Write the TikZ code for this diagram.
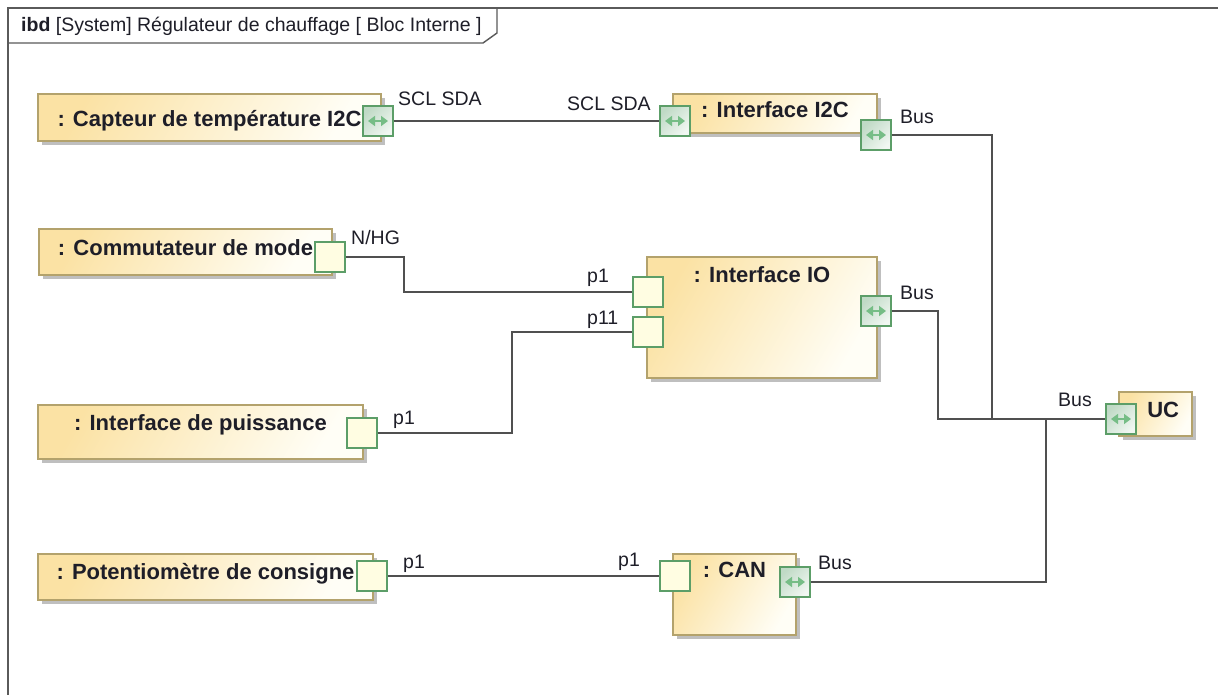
\documentclass[tikz,border=0pt]{standalone}
\usepackage{fontspec}
\setmainfont{Liberation Sans}
\usetikzlibrary{shadows,arrows.meta,calc}
\definecolor{blkA}{HTML}{FBE2A4}
\definecolor{blkB}{HTML}{FFFEF6}
\definecolor{blkLine}{HTML}{B3A26C}
\definecolor{portLine}{HTML}{5C9E68}
\definecolor{portFill}{HTML}{FFFDE2}
\definecolor{bpA}{HTML}{C0DAC6}
\definecolor{bpB}{HTML}{F1F7F2}
\definecolor{arrowG}{HTML}{76BD86}
\definecolor{wireC}{HTML}{505050}
\definecolor{frameC}{HTML}{5A5A5A}
\definecolor{txt}{HTML}{1E1E28}
\begin{document}
\begin{tikzpicture}[x=1pt,y=-1pt,
  block/.style={draw=blkLine, line width=1.3pt, top color=blkA, bottom color=blkB,
    shading angle=60, inner sep=0pt,
    drop shadow={shadow xshift=4pt, shadow yshift=-4pt, fill=black!25, opacity=1}},
  portbase/.style={draw=portLine, line width=1.3pt, minimum size=30pt, inner sep=0pt},
  port/.style={portbase, fill=portFill},
  bport/.style={portbase, top color=bpA, bottom color=bpB, shading angle=45,
    path picture={\draw[arrowG, line width=1.6pt,
      {Triangle[width=10pt,length=7pt]}-{Triangle[width=10pt,length=7pt]}]
      ([xshift=-10pt]path picture bounding box.center) --
      ([xshift=10pt]path picture bounding box.center);}},
  btxt/.style={text=txt, font=\fontsize{22}{24}\selectfont\bfseries, anchor=base, inner sep=0pt},
  ltxt/.style={text=txt, font=\fontsize{19.5}{22}\selectfont, anchor=base west, inner sep=0pt},
  wire/.style={draw=wireC, line width=1.4pt},
  frame/.style={draw=frameC, line width=1.4pt}]
\useasboundingbox[fill=white] (0,0) rectangle (1218,695);

% frame
\draw[frame] (1218,8) -- (8,8) -- (8,695);
\draw[frame] (8,43) -- (483,43) -- (497,33) -- (497,8);
\node[ltxt] (title) at (21,32) {\textbf{ibd} [System] Régulateur de chauffage [ Bloc Interne ]};

% blocks
\node[block, minimum width=343pt, minimum height=47pt] (cap) at (209.5,117.5) {};
\node[block, minimum width=204pt, minimum height=39pt] (i2c) at (775,113.5) {};
\node[block, minimum width=293pt, minimum height=46pt] (com) at (185.5,252) {};
\node[block, minimum width=230pt, minimum height=121pt] (io) at (762,317.5) {};
\node[block, minimum width=325pt, minimum height=54pt] (pui) at (200.5,432) {};
\node[block, minimum width=335pt, minimum height=46pt] (pot) at (205.5,577) {};
\node[block, minimum width=123pt, minimum height=81pt] (can) at (734.5,594.5) {};
\node[block, minimum width=73pt, minimum height=44pt] (uc) at (1155.5,414) {};

% block names
\node[btxt] (capT) at (209.5,127) {: Capteur de température I2C};
\node[btxt] (i2cT) at (775,118) {: Interface I2C};
\node[btxt] (comT) at (185.5,255) {: Commutateur de mode};
\node[btxt] (ioT) at (762,282) {: Interface IO};
\node[btxt] (puiT) at (200.5,430) {: Interface de puissance};
\node[btxt] (potT) at (205.5,579) {: Potentiomètre de consigne};
\node[btxt] (canT) at (734.5,577) {: CAN};
\node[btxt] (ucT) at (1155.5,417) {: UC};

% junction coordinates
\coordinate (k1) at (404,292);
\coordinate (k2) at (512,332);
\coordinate (j1) at (938,419);
\coordinate (j2) at (992,419);
\coordinate (j3) at (1046,419);

% ports
\node[bport] (capP) at (378,121) {};
\node[bport] (i2cL) at (675,121) {};
\node[bport] (i2cB) at (876,135) {};
\node[port] (comP) at (330,257) {};
\node[port] (ioP1) at (648,292) {};
\node[port] (ioP11) at (648,332) {};
\node[bport] (ioB) at (876,311) {};
\node[port] (puiP) at (362,433) {};
\node[port] (potP) at (372,576) {};
\node[port] (canP) at (675,576) {};
\node[bport] (canB) at (795,582) {};
\node[bport] (ucP) at (1121,419) {};

% connectors
\draw[wire] (capP.east) -- (i2cL.west);
\draw[wire] (comP.east) -| (k1) -- (ioP1.west);
\draw[wire] (puiP.east) -| (k2) -- (ioP11.west);
\draw[wire] (potP.east) -- (canP.west);
\draw[wire] (ioB.east) -| (j1) -- (ucP.west);
\draw[wire] (i2cB.east) -| (j2);
\draw[wire] (canB.east) -| (j3);

% port labels
\node[ltxt] (l1) at (398,106) {SCL SDA};
\node[ltxt] (l2) at (567,111) {SCL SDA};
\node[ltxt] (l3) at (900,124) {Bus};
\node[ltxt] (l4) at (351,244) {N/HG};
\node[ltxt] (l5) at (587,282) {p1};
\node[ltxt] (l6) at (587,324) {p11};
\node[ltxt] (l7) at (900,299) {Bus};
\node[ltxt] (l8) at (393,424) {p1};
\node[ltxt] (l9) at (403,568) {p1};
\node[ltxt] (l10) at (618,566) {p1};
\node[ltxt] (l11) at (818,569) {Bus};
\node[ltxt] (l12) at (1058,406) {Bus};
\end{tikzpicture}
\end{document}
